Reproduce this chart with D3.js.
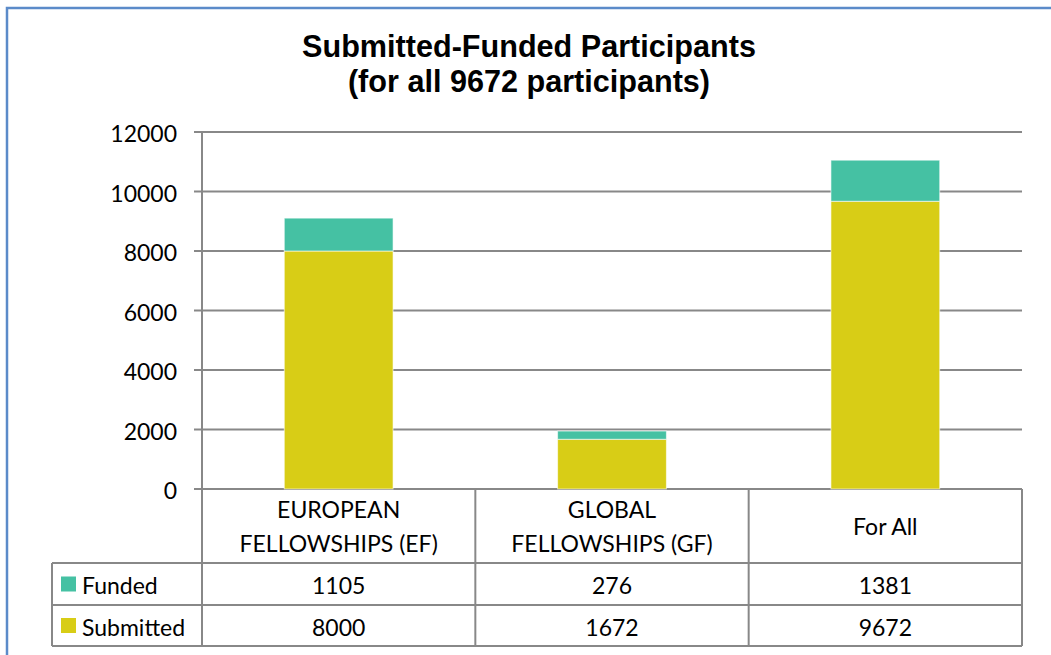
<!DOCTYPE html>
<html lang="en">

<head>
    <meta charset="utf-8">
    <script src="https://d3js.org/d3.v7.min.js"></script>
    <style>
        body {
            margin: 0;
            background: white;
        }

        .tick-label,
        .cell {
            font-family: Lato, "Open Sans", sans-serif;
            font-size: 23px;
            fill: #000;
        }

        .title {
            font-family: "Liberation Sans", Arial, sans-serif;
            font-weight: bold;
            font-size: 30.6px;
        }
    </style>
</head>

<body>
    <div id="chart"></div>

    <script>
        // data
        var categories = [
            ["EUROPEAN", "FELLOWSHIPS (EF)"],
            ["GLOBAL", "FELLOWSHIPS (GF)"],
            ["For All"]
        ];
        var seriesNames = ["Funded", "Submitted"];
        var submitted = [8000, 1672, 9672];
        var funded = [1105, 276, 1381];
        var yTicks = [0, 2000, 4000, 6000, 8000, 10000, 12000];
        var titleLines = ["Submitted-Funded Participants", "(for all 9672 participants)"];

        var colors = { Funded: "#45c1a3", Submitted: "#d8cd16" };
        var gridColor = "#888888";

        var W = 1051, H = 655;
        var plot = { left: 202, right: 1022, top: 132, bottom: 489 };
        var tableLeft = 52;
        var rowBottoms = [563, 605, 646];

        var svg = d3.select("#chart")
            .append("svg")
            .attr("width", W)
            .attr("height", H);

        // outer chart border (runs off the right and bottom edges)
        svg.append("rect")
            .attr("x", 7).attr("y", 8)
            .attr("width", W + 20).attr("height", H + 20)
            .attr("fill", "white")
            .attr("stroke", "#5b8bc9")
            .attr("stroke-width", 2.5);

        // title
        svg.append("text")
            .attr("class", "title")
            .attr("text-anchor", "middle")
            .selectAll("tspan")
            .data(titleLines)
            .join("tspan")
            .attr("x", 529)
            .attr("y", function (d, i) { return 57 + i * 35; })
            .text(function (d) { return d; });

        var x = d3.scaleBand()
            .domain(d3.range(categories.length))
            .range([plot.left, plot.right])
            .padding(0);

        var y = d3.scaleLinear()
            .domain([0, 12000])
            .range([plot.bottom, plot.top]);

        // gridlines + tick marks
        svg.append("g")
            .selectAll("line")
            .data(yTicks)
            .join("line")
            .attr("x1", plot.left - 8)
            .attr("x2", plot.right)
            .attr("y1", function (d) { return y(d); })
            .attr("y2", function (d) { return y(d); })
            .attr("stroke", gridColor)
            .attr("stroke-width", 2);

        svg.append("g")
            .selectAll("text")
            .data(yTicks)
            .join("text")
            .attr("class", "tick-label")
            .attr("text-anchor", "end")
            .attr("dominant-baseline", "central")
            .attr("x", 177)
            .attr("y", function (d) { return y(d) + 1; })
            .text(function (d) { return d; });

        // stacked bars
        var stackData = categories.map(function (c, i) {
            return { i: i, Submitted: submitted[i], Funded: funded[i] };
        });
        var stack = d3.stack().keys(["Submitted", "Funded"])(stackData);
        var barW = x.bandwidth() * 0.398;

        svg.append("g")
            .selectAll("g")
            .data(stack)
            .join("g")
            .attr("fill", function (s) { return colors[s.key]; })
            .selectAll("rect")
            .data(function (s) { return s; })
            .join("rect")
            .attr("x", function (d) { return x(d.data.i) + (x.bandwidth() - barW) / 2; })
            .attr("width", barW)
            .attr("y", function (d) { return y(d[1]); })
            .attr("height", function (d) { return y(d[0]) - y(d[1]); })
            .attr("stroke", "rgba(255,255,255,0.6)")
            .attr("stroke-width", 1);

        // y axis line
        svg.append("line")
            .attr("x1", plot.left).attr("x2", plot.left)
            .attr("y1", plot.top).attr("y2", rowBottoms[2])
            .attr("stroke", gridColor).attr("stroke-width", 2);

        // data table lines
        var tbl = svg.append("g").attr("stroke", gridColor).attr("stroke-width", 2);
        d3.range(categories.length + 1).forEach(function (k) {
            var xx = k < categories.length ? x(k) : plot.right;
            tbl.append("line")
                .attr("x1", xx).attr("x2", xx)
                .attr("y1", plot.bottom).attr("y2", rowBottoms[2]);
        });
        rowBottoms.forEach(function (yy) {
            tbl.append("line")
                .attr("x1", tableLeft).attr("x2", plot.right)
                .attr("y1", yy).attr("y2", yy);
        });
        tbl.append("line")
            .attr("x1", tableLeft).attr("x2", tableLeft)
            .attr("y1", rowBottoms[0]).attr("y2", rowBottoms[2]);

        // category headers
        svg.append("g")
            .selectAll("text")
            .data(categories)
            .join("text")
            .attr("class", "cell")
            .attr("text-anchor", "middle")
            .each(function (lines, i) {
                var cy = (plot.bottom + rowBottoms[0]) / 2;
                var lh = 34;
                var y0 = cy - (lines.length - 1) * lh / 2;
                d3.select(this).selectAll("tspan")
                    .data(lines)
                    .join("tspan")
                    .attr("x", x(i) + x.bandwidth() / 2)
                    .attr("y", function (d, j) { return y0 + j * lh; })
                    .attr("dominant-baseline", "central")
                    .text(function (d) { return d; });
            });

        // table rows: legend key + values
        var rows = [funded, submitted];
        rows.forEach(function (vals, r) {
            var top = rowBottoms[r], bot = rowBottoms[r + 1];
            var cy = (top + bot) / 2;
            svg.append("rect")
                .attr("x", 61).attr("y", cy - 7.5)
                .attr("width", 15).attr("height", 15)
                .attr("fill", colors[seriesNames[r]]);
            svg.append("text")
                .attr("class", "cell")
                .attr("x", 82)
                .attr("y", cy + 1)
                .attr("dominant-baseline", "central")
                .text(seriesNames[r]);
            svg.append("g")
                .selectAll("text")
                .data(vals)
                .join("text")
                .attr("class", "cell")
                .attr("text-anchor", "middle")
                .attr("dominant-baseline", "central")
                .attr("x", function (d, i) { return x(i) + x.bandwidth() / 2; })
                .attr("y", cy + 1)
                .text(function (d) { return d; });
        });
    </script>
</body>

</html>
